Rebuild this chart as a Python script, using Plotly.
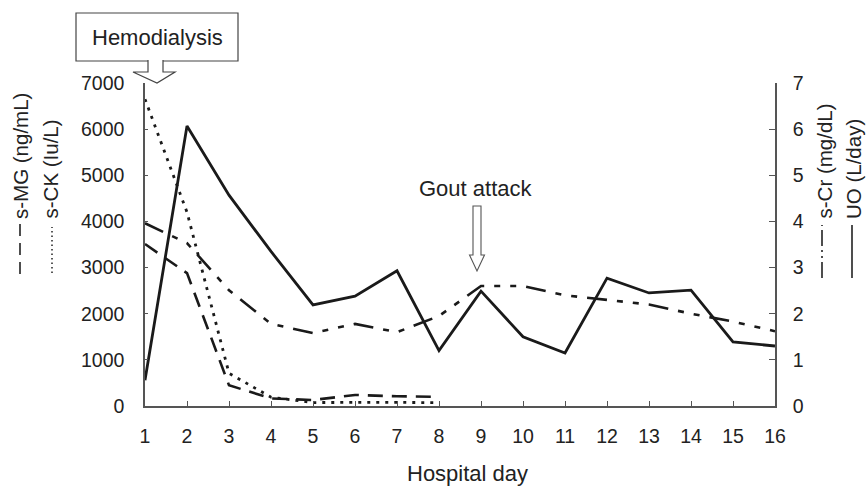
import plotly.graph_objects as go

# ---------------- data ----------------
days = list(range(1, 17))
early_days = list(range(1, 9))
uo = [0.56, 6.07, 4.57, 3.35, 2.19, 2.38, 2.93, 1.20, 2.49, 1.50, 1.15, 2.77, 2.45, 2.51, 1.39, 1.30]   # L/day
s_cr = [3.96, 3.53, 2.51, 1.78, 1.58, 1.78, 1.60, 1.95, 2.60, 2.60, 2.40, 2.30, 2.20, 2.00, 1.83, 1.62]  # mg/dL
s_mg = [3510, 2880, 450, 165, 130, 240, 210, 200]   # ng/mL
s_ck = [6650, 4200, 710, 190, 75, 80, 80, 70]       # IU/L
left_ticks = [0, 1000, 2000, 3000, 4000, 5000, 6000, 7000]
right_ticks = [0, 1, 2, 3, 4, 5, 6, 7]

# ---------------- layout geometry ----------------
W, H = 866, 486
L, R, T, B = 145, 91, 83, 80
PW, PH = W - L - R, H - T - B


def px(x):
    return (x - L) / PW


def py(y):
    return (H - B - y) / PH


FONT = "Liberation Sans, Arial, sans-serif"
INK = "#1a1a1a"
AX = "#555555"

fig = go.Figure()
fig.add_trace(go.Scatter(x=early_days, y=s_mg, mode="lines", name="s-MG",
                         line=dict(color=INK, width=2.6, dash="15px,9px")))
fig.add_trace(go.Scatter(x=early_days, y=s_ck, mode="lines", name="s-CK",
                         line=dict(color=INK, width=2.8, dash="3px,6px")))
fig.add_trace(go.Scatter(x=days, y=s_cr, mode="lines", name="s-Cr", yaxis="y2",
                         line=dict(color=INK, width=2.6, dash="20px,10px,6px,10px,6px,10px")))
fig.add_trace(go.Scatter(x=days, y=uo, mode="lines", name="UO", yaxis="y2",
                         line=dict(color=INK, width=2.8)))

tickfont = dict(family=FONT, size=19.5, color="#222222")

fig.update_layout(
    width=W, height=H,
    margin=dict(l=L, r=R, t=T, b=B, pad=0),
    paper_bgcolor="white", plot_bgcolor="white",
    showlegend=False,
    xaxis=dict(range=[1, 16], tickvals=days, showline=True, linecolor=AX, linewidth=1.5,
               ticks="inside", ticklen=5, tickcolor=AX, tickwidth=1.2,
               showgrid=False, zeroline=False, tickfont=tickfont, ticklabelstandoff=12),
    yaxis=dict(range=[0, 7000], tickvals=left_ticks, showline=True, linecolor=AX, linewidth=1.5,
               ticks="inside", ticklen=3, tickcolor=AX, tickwidth=1.2,
               showgrid=False, zeroline=False, tickfont=tickfont, ticklabelstandoff=15),
    yaxis2=dict(range=[0, 7], tickvals=right_ticks, overlaying="y", side="right",
                showline=True, linecolor=AX, linewidth=1.5,
                ticks="inside", ticklen=6, tickcolor=AX, tickwidth=1.2,
                showgrid=False, zeroline=False, tickfont=tickfont, ticklabelstandoff=12),
)

ann_font = dict(family=FONT, size=22, color="#222222")
lab_font = dict(family=FONT, size=20.5, color="#222222")

annotations = [
    dict(text="Hospital day", x=px(467), y=py(473), xref="paper", yref="paper",
         showarrow=False, font=ann_font, xanchor="center", yanchor="middle"),
    dict(text="Hemodialysis", x=px(157), y=py(38), xref="paper", yref="paper",
         showarrow=False, font=ann_font, xanchor="center", yanchor="middle"),
    dict(text="Gout attack", x=px(476), y=py(188), xref="paper", yref="paper",
         showarrow=False, font=ann_font, xanchor="center", yanchor="middle"),
]
for text, xc in [("s-MG (ng/mL)", 20), ("s-CK (Iu/L)", 50), ("s-Cr (mg/dL)", 824), ("UO (L/day)", 853)]:
    annotations.append(dict(text=text, x=px(xc), y=py(221), xref="paper", yref="paper",
                            showarrow=False, font=lab_font, textangle=-90,
                            xanchor="center", yanchor="bottom"))
fig.update_layout(annotations=annotations)


def path(points, close=True):
    s = "M " + " L ".join(f"{px(x):.5f},{py(y):.5f}" for x, y in points)
    return s + (" Z" if close else "")


shapes = []
# Hemodialysis box
shapes.append(dict(type="rect", xref="paper", yref="paper",
                   x0=px(76), x1=px(238), y0=py(61), y1=py(13),
                   line=dict(color="#444444", width=1.2), fillcolor="white"))
# hollow arrow below box (fill, then open outline)
arrow_pts = [(148, 60), (148, 72), (133, 72), (157, 83), (175, 72), (163, 72), (163, 60)]
shapes.append(dict(type="path", xref="paper", yref="paper", path=path(arrow_pts),
                   line=dict(width=0), fillcolor="white"))
shapes.append(dict(type="path", xref="paper", yref="paper", path=path(arrow_pts[:], close=False),
                   line=dict(color="#444444", width=1.2), fillcolor="rgba(0,0,0,0)"))
# Gout attack arrow
gout_pts = [(473, 206), (481, 206), (481, 255), (484.5, 255), (477, 271), (469.5, 255), (473, 255)]
shapes.append(dict(type="path", xref="paper", yref="paper", path=path(gout_pts),
                   line=dict(color="#555555", width=1.1), fillcolor="white"))

# legend line samples next to rotated labels
samples = [
    (20, 224, 274, "12px,7px", 1.6),
    (52, 227, 273, "1.5px,3px", 1.5),
    (822, 225, 278, "16px,4px,2px,4px,2px,4px", 1.6),
    (852, 225, 278, "solid", 1.6),
]
for x, y0, y1, dash, w in samples:
    shapes.append(dict(type="line", xref="paper", yref="paper",
                       x0=px(x), x1=px(x), y0=py(y1), y1=py(y0),
                       line=dict(color="#222222", width=w, dash=dash)))
fig.update_layout(shapes=shapes)

fig.write_html("out.html", config={"displayModeBar": False},
               post_script="document.body.style.margin='0';document.body.style.overflow='hidden';")
